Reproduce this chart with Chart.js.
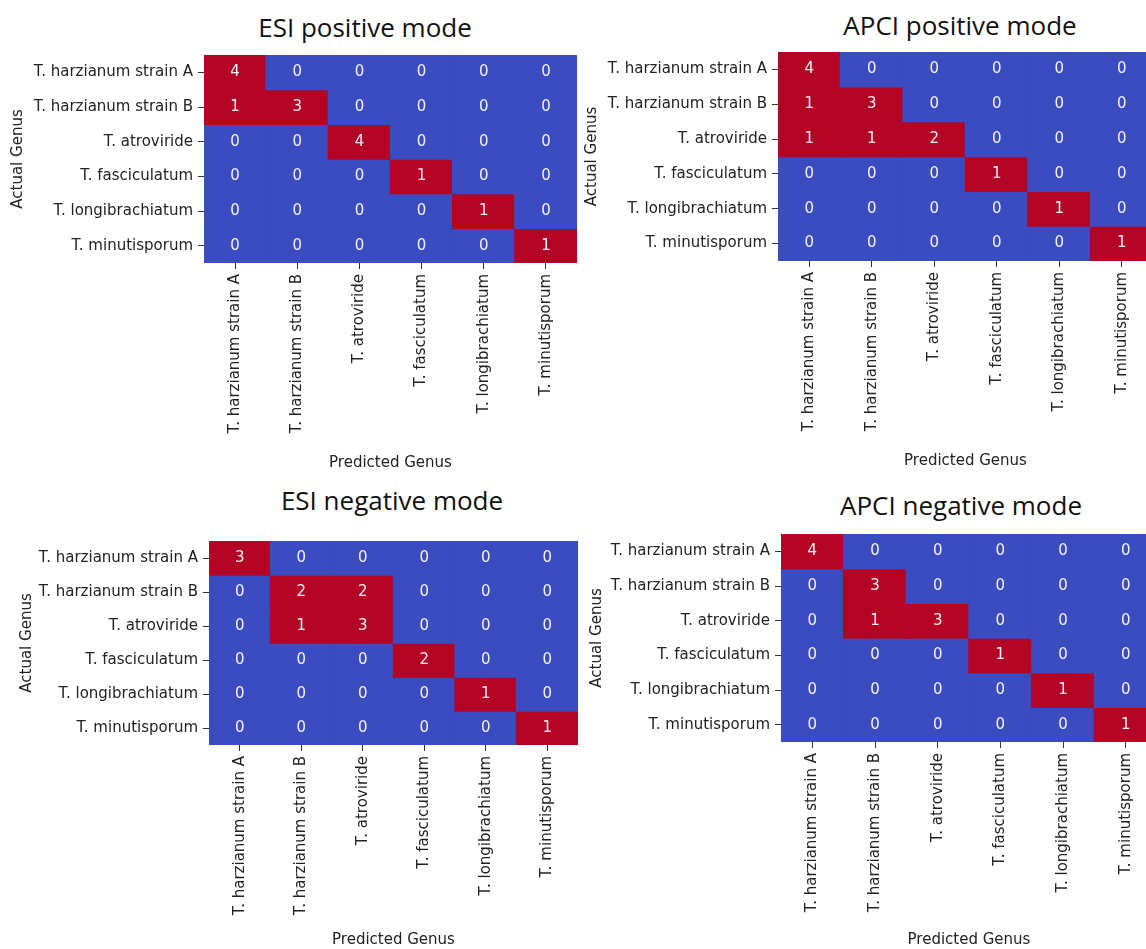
<!DOCTYPE html>
<html>
<head>
<meta charset="utf-8">
<script src="https://cdn.jsdelivr.net/npm/chart.js@4.4.1/dist/chart.umd.min.js"></script>
<style>
  html, body { margin: 0; padding: 0; background: #ffffff; overflow: hidden; width: 1146px; height: 949px; }
  canvas { position: absolute; left: 0; top: 0; }
  .panel-title {
    position: absolute; transform: translate(-50%, -50%);
    font-family: "Open Sans", "Noto Sans", sans-serif; font-size: 26px; color: #111;
    white-space: nowrap;
  }
</style>
</head>
<body>
<div class="panel-title" style="left:365px;top:27px">ESI positive mode</div>
<div class="panel-title" style="left:960px;top:25px">APCI positive mode</div>
<div class="panel-title" style="left:392px;top:500px">ESI negative mode</div>
<div class="panel-title" style="left:961px;top:505px">APCI negative mode</div>
<canvas id="esiPos" width="1170" height="949"></canvas>
<canvas id="apciPos" width="1170" height="949"></canvas>
<canvas id="esiNeg" width="1170" height="949"></canvas>
<canvas id="apciNeg" width="1170" height="949"></canvas>
<script>
// Class labels shared by both axes
const genera = [
  'T. harzianum strain A',
  'T. harzianum strain B',
  'T. atroviride',
  'T. fasciculatum',
  'T. longibrachiatum',
  'T. minutisporum'
];

// Confusion matrices: rows = actual genus, columns = predicted genus
const esiPositive = [
  [4, 0, 0, 0, 0, 0],
  [1, 3, 0, 0, 0, 0],
  [0, 0, 4, 0, 0, 0],
  [0, 0, 0, 1, 0, 0],
  [0, 0, 0, 0, 1, 0],
  [0, 0, 0, 0, 0, 1]
];
const apciPositive = [
  [4, 0, 0, 0, 0, 0],
  [1, 3, 0, 0, 0, 0],
  [1, 1, 2, 0, 0, 0],
  [0, 0, 0, 1, 0, 0],
  [0, 0, 0, 0, 1, 0],
  [0, 0, 0, 0, 0, 1]
];
const esiNegative = [
  [3, 0, 0, 0, 0, 0],
  [0, 2, 2, 0, 0, 0],
  [0, 1, 3, 0, 0, 0],
  [0, 0, 0, 2, 0, 0],
  [0, 0, 0, 0, 1, 0],
  [0, 0, 0, 0, 0, 1]
];
const apciNegative = [
  [4, 0, 0, 0, 0, 0],
  [0, 3, 0, 0, 0, 0],
  [0, 1, 3, 0, 0, 0],
  [0, 0, 0, 1, 0, 0],
  [0, 0, 0, 0, 1, 0],
  [0, 0, 0, 0, 0, 1]
];

const HIT = '#b40426';   // non-zero cell
const MISS = '#3b4cc0';  // zero cell
const CANVAS_W = 1170, CANVAS_H = 949;
const FONT_SIZE = 15;
const AXIS_FONT = { family: '"DejaVu Sans", sans-serif', size: FONT_SIZE, lineHeight: 1.2 };
const TITLE_LH = FONT_SIZE * 1.2;

// Writes the count into the centre of each cell
const cellLabels = {
  id: 'cellLabels',
  afterDatasetsDraw(chart) {
    const { ctx, scales: { x, y } } = chart;
    const matrix = chart.config.options.plugins.cellLabels.matrix;
    ctx.save();
    ctx.font = FONT_SIZE + 'px "DejaVu Sans", sans-serif';
    ctx.fillStyle = '#f2f2f2';
    ctx.textAlign = 'center';
    ctx.textBaseline = 'middle';
    matrix.forEach((row, r) => {
      row.forEach((v, c) => {
        ctx.fillText(String(v), x.getPixelForValue(c), y.getPixelForValue(r + 0.5));
      });
    });
    ctx.restore();
  }
};

// area: plot rectangle; yTitleX / xTitleY: centre lines of the axis titles
function heatmap(id, matrix, area, yTitleX, xTitleY) {
  const pad = {
    left: yTitleX - TITLE_LH / 2,
    top: area.top,
    right: CANVAS_W - area.right,
    bottom: CANVAS_H - (xTitleY + TITLE_LH / 2)
  };
  const datasets = matrix.map((row, r) => ({
    label: genera[r],
    data: row.map(() => [r, r + 1]),
    backgroundColor: row.map(v => (v > 0 ? HIT : MISS)),
    borderWidth: 0,
    inflateAmount: 0.7,
    barPercentage: 1,
    categoryPercentage: 1,
    grouped: false
  }));
  new Chart(document.getElementById(id), {
    type: 'bar',
    data: { labels: genera, datasets },
    plugins: [cellLabels],
    options: {
      responsive: false,
      animation: false,
      devicePixelRatio: 1,
      layout: { padding: pad },
      plugins: {
        legend: { display: false },
        tooltip: { enabled: false },
        cellLabels: { matrix }
      },
      scales: {
        x: {
          type: 'category',
          offset: true,
          border: { display: false },
          grid: { offset: false, drawOnChartArea: false, drawTicks: true, tickLength: 6, color: '#333' },
          ticks: { autoSkip: false, maxRotation: 90, minRotation: 90, padding: 5, color: '#222', font: AXIS_FONT },
          title: { display: true, text: 'Predicted Genus', color: '#222', font: AXIS_FONT, padding: 0 },
          afterFit(scale) { scale.height = (CANVAS_H - pad.bottom) - area.bottom; }
        },
        y: {
          type: 'linear',
          min: 0,
          max: 6,
          reverse: true,
          border: { display: false },
          grid: { drawOnChartArea: false, drawTicks: true, tickLength: 6, color: '#333' },
          afterBuildTicks(scale) {
            scale.ticks = genera.map((_, i) => ({ value: i + 0.5 }));
          },
          ticks: {
            autoSkip: false,
            padding: 5,
            color: '#222',
            font: AXIS_FONT,
            callback: v => genera[Math.floor(v)]
          },
          title: { display: true, text: 'Actual Genus', color: '#222', font: AXIS_FONT, padding: 0 },
          afterFit(scale) { scale.width = area.left - pad.left; }
        }
      }
    }
  });
}

heatmap('esiPos', esiPositive, { left: 204, top: 55, right: 577, bottom: 263 }, 18, 463);
heatmap('apciPos', apciPositive, { left: 778, top: 52, right: 1153, bottom: 261 }, 592, 461);
heatmap('esiNeg', esiNegative, { left: 209, top: 541, right: 578, bottom: 745 }, 27, 940);
heatmap('apciNeg', apciNegative, { left: 781, top: 534, right: 1157, bottom: 742 }, 597, 940);
</script>
</body>
</html>
